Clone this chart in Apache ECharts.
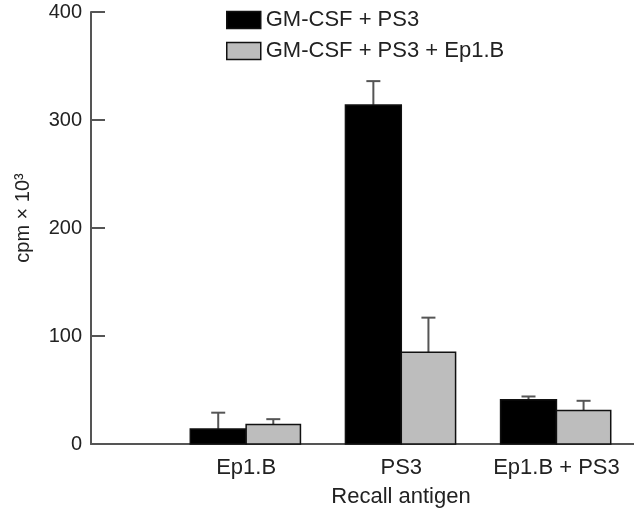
<!DOCTYPE html>
<html>
<head>
<meta charset="utf-8">
<script src="https://cdn.jsdelivr.net/npm/echarts@6/dist/echarts.min.js"></script>
<style>html,body{margin:0;padding:0;background:#fff}#c{width:634px;height:510px}</style>
</head>
<body>
<div id="c"></div>
<script>
const categories = ['Ep1.B', 'PS3', 'Ep1.B + PS3'];
const seriesNames = ['GM-CSF + PS3', 'GM-CSF + PS3 + Ep1.B'];
const valuesA = [14, 314, 41];
const errorsA = [15, 22, 3];
const valuesB = [18, 85, 31];
const errorsB = [5, 32, 9];
const yTicks = [0, 100, 200, 300, 400];

const chart = echarts.init(document.getElementById('c'), null, {renderer: 'canvas'});
const font = 'Liberation Sans, Arial, Helvetica, sans-serif';
const textColor = '#222';
const axisColor = '#555';

function buildData(values, errors) {
  return values.map((v, i) => [i + 1, v, errors[i]]);
}

function makeRender(off0, off1, fill) {
  return function (params, api) {
    const x = api.value(0), y = api.value(1), e = api.value(2);
    const p0 = api.coord([x + off0, 0]);
    const p1 = api.coord([x + off1, y]);
    const pc = api.coord([x + (off0 + off1) / 2, y]);
    const pe = api.coord([x + (off0 + off1) / 2, y + e]);
    return {
      type: 'group',
      children: [
        {type: 'line', shape: {x1: pc[0], y1: pc[1], x2: pe[0], y2: pe[1]},
         style: {stroke: axisColor, lineWidth: 2}},
        {type: 'line', shape: {x1: pe[0] - 7, y1: pe[1], x2: pe[0] + 7, y2: pe[1]},
         style: {stroke: axisColor, lineWidth: 2}},
        {type: 'rect', shape: {x: p0[0], y: p1[1], width: p1[0] - p0[0], height: p0[1] - p1[1]},
         style: {fill: fill, stroke: '#111', lineWidth: 1.5}}
      ]
    };
  };
}

const option = {
  animation: false,
  backgroundColor: '#fff',
  textStyle: {fontFamily: font},
  grid: {left: 91, right: 0, top: 12, bottom: 66, containLabel: false, outerBoundsMode: 'none'},
  legend: {
    orient: 'vertical',
    left: 226,
    top: 9,
    padding: 0,
    itemWidth: 34,
    itemHeight: 17,
    itemGap: 9,
    textStyle: {fontSize: 22, color: textColor, fontFamily: font},
    data: [
      {name: seriesNames[0], icon: 'rect', itemStyle: {color: '#000', borderColor: '#111', borderWidth: 1.5}},
      {name: seriesNames[1], icon: 'rect', itemStyle: {color: '#bdbdbd', borderColor: '#111', borderWidth: 1.5}}
    ]
  },
  xAxis: {
    type: 'value',
    min: 0,
    max: 3.5,
    interval: 1,
    splitLine: {show: false},
    axisTick: {show: false},
    axisLine: {lineStyle: {color: axisColor, width: 2}},
    axisLabel: {
      fontSize: 22, color: textColor, fontFamily: font, margin: 13,
      showMaxLabel: false,
      formatter: v => (Number.isInteger(v) && v >= 1 && v <= categories.length) ? categories[v - 1] : ''
    },
    name: 'Recall antigen',
    nameLocation: 'middle',
    nameGap: 42,
    nameTextStyle: {fontSize: 22, color: textColor, fontFamily: font, padding: [0, 0, 0, 77]}
  },
  yAxis: {
    type: 'value',
    min: yTicks[0],
    max: yTicks[yTicks.length - 1],
    interval: 100,
    splitLine: {show: false},
    axisLine: {show: true, lineStyle: {color: axisColor, width: 2}},
    axisTick: {show: true, inside: true, length: 14, lineStyle: {color: axisColor, width: 2}},
    axisLabel: {fontSize: 20, color: textColor, fontFamily: font, margin: 9},
    name: 'cpm × 10³',
    nameLocation: 'middle',
    nameRotate: 90,
    nameGap: 58,
    nameTextStyle: {fontSize: 20, color: textColor, fontFamily: font, padding: [0, 0, 0, 20]}
  },
  series: [
    {
      name: seriesNames[0], type: 'custom',
      itemStyle: {color: '#000'},
      encode: {x: 0, y: 1},
      renderItem: makeRender(-0.36, 0, '#000'),
      data: buildData(valuesA, errorsA)
    },
    {
      name: seriesNames[1], type: 'custom',
      itemStyle: {color: '#bdbdbd'},
      encode: {x: 0, y: 1},
      renderItem: makeRender(0, 0.35, '#bdbdbd'),
      data: buildData(valuesB, errorsB)
    }
  ]
};
chart.setOption(option);
</script>
</body>
</html>
